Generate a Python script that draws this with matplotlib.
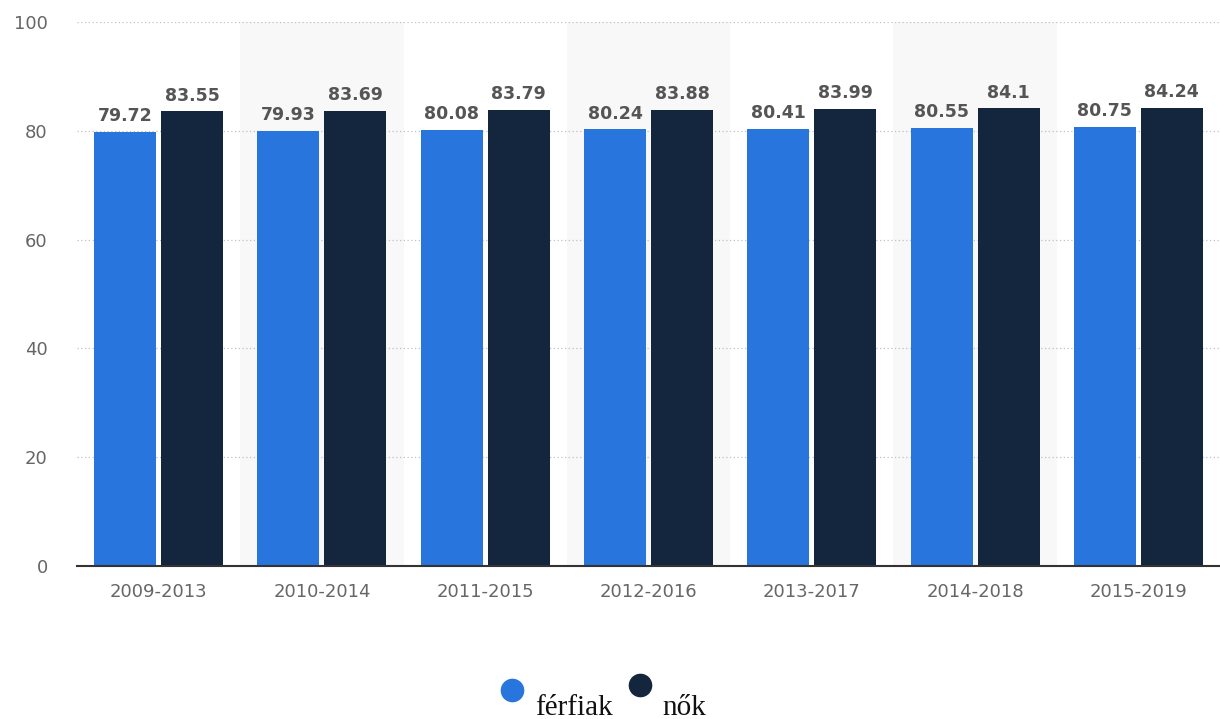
import numpy as np
import matplotlib
matplotlib.use('Agg')
import matplotlib.pyplot as plt

# data
periods = ['2009-2013', '2010-2014', '2011-2015', '2012-2016', '2013-2017', '2014-2018', '2015-2019']
ferfiak = [79.72, 79.93, 80.08, 80.24, 80.41, 80.55, 80.75]
nok = [83.55, 83.69, 83.79, 83.88, 83.99, 84.1, 84.24]
yticks = [0, 20, 40, 60, 80, 100]

blue = '#2876dd'
navy = '#13263d'

fig = plt.figure(figsize=(12.2, 7.19), dpi=100)
ax = fig.add_axes([77 / 1220, 1 - 566 / 719, 1 - 77 / 1220, (566 - 22) / 719])

x = np.arange(len(periods))
w = 0.38
off = 0.205

# alternating light bands
for i in x:
    if i % 2 == 1:
        ax.axvspan(i - 0.5, i + 0.5, color='#f8f8f8', zorder=0, lw=0)

b1 = ax.bar(x - off, ferfiak, w, color=blue, zorder=3)
b2 = ax.bar(x + off, nok, w, color=navy, zorder=3)

for bars, vals in [(b1, ferfiak), (b2, nok)]:
    for r, v in zip(bars, vals):
        ax.annotate(str(v), (r.get_x() + r.get_width() / 2, v), xytext=(0, 5),
                    textcoords='offset points', ha='center', va='bottom',
                    fontsize=12.5, fontweight='bold', color='#555555', zorder=4)

ax.set_xlim(-0.5, len(periods) - 0.5)
ax.set_ylim(0, 100)
ax.set_yticks(yticks)
ax.set_yticklabels([str(t) for t in yticks])
ax.set_xticks(x)
ax.set_xticklabels(periods)
for t in yticks[1:]:
    ax.axhline(t, color='#c0c0c0', lw=0.9, ls=(0, (1, 2)), zorder=1)

for s in ['top', 'right', 'left']:
    ax.spines[s].set_visible(False)
ax.spines['bottom'].set_color('#333333')
ax.spines['bottom'].set_linewidth(1.5)
ax.spines['bottom'].set_zorder(5)
ax.tick_params(axis='y', length=0, pad=21, labelsize=13, labelcolor='#666666')
ax.tick_params(axis='x', length=0, pad=12, labelsize=13, labelcolor='#666666')
ax.patch.set_alpha(0)

# legend drawn by hand at the bottom
lg = fig.add_axes([0, 0, 1, 1])
lg.set_xlim(0, 1220)
lg.set_ylim(719, 0)
lg.axis('off')
lg.plot([512], [690], 'o', ms=16, color=blue)
lg.plot([640], [685], 'o', ms=16, color=navy)
lg.text(535, 715, 'férfiak', fontsize=21, family='Liberation Serif', va='baseline', color='#111111')
lg.text(662, 715, 'nők', fontsize=21, family='Liberation Serif', va='baseline', color='#111111')

fig.savefig('out.png', dpi=100)
